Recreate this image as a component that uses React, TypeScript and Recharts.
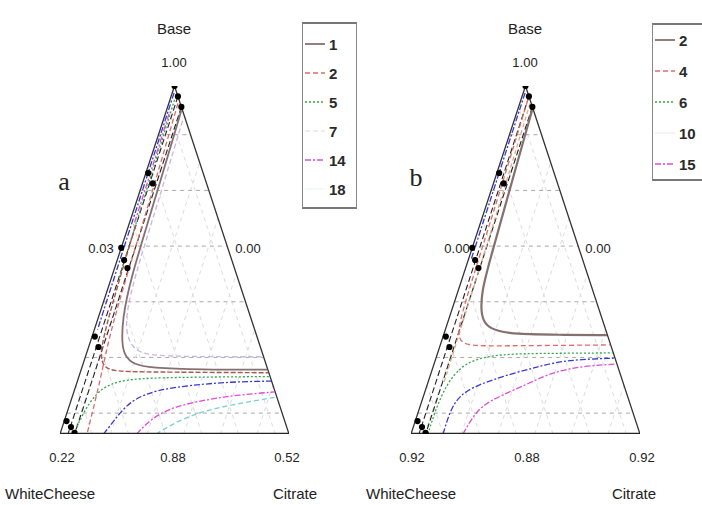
import React from "react";
import { ComposedChart, Line, Scatter, XAxis, YAxis, ZAxis } from "recharts";

// compositions are [Base, Citrate]; WhiteCheese = 1 - Base - Citrate
type Comp = [number, number];

const GRID_LEVELS = [0.06, 0.22, 0.38, 0.54, 0.7, 0.86];

const DESIGN_POINTS: Comp[] = [
  [1, 0], [0.97, 0.03], [0.94, 0.06],
  [0.75, 0.01], [0.72, 0.045],
  [0.535, 0], [0.5, 0.03], [0.477, 0.056],
  [0.28, 0.012], [0.25, 0.043],
  [0.037, 0.01], [0.02, 0.038], [0.003, 0.062],
];
const BOUND_INNER: Comp[] = [[0.97, 0.03], [0, 0.035]];
const BOUND_OUTER: Comp[] = [[0.94, 0.06], [0, 0.064]];

// panel a contours
const A_T1: Comp[] = [[0.93, 0.065], [0.67, 0.078], [0.44, 0.085], [0.33, 0.108], [0.26, 0.14], [0.225, 0.17], [0.2, 0.22], [0.19, 0.3], [0.185, 0.52], [0.185, 0.813]];
const A_T2: Comp[] = [[0.95, 0.04], [0.7, 0.055], [0.45, 0.065], [0.29, 0.073], [0.147, 0.1], [0, 0.118]];
const A_T2B: Comp[] = [[0.6, 0.03], [0.4, 0.04], [0.28, 0.05], [0.22, 0.065], [0.19, 0.1], [0.18, 0.15], [0.178, 0.3], [0.176, 0.822]];
const A_T5: Comp[] = [[0, 0.06], [0.06, 0.07], [0.12, 0.1], [0.145, 0.15], [0.158, 0.225], [0.163, 0.4], [0.165, 0.833]];
const A_T5_UP: Comp[] = [[0.96, 0.02], [0.7, 0.028], [0.45, 0.033]];
const A_T7: Comp[] = [[0.9, 0.085], [0.67, 0.095], [0.44, 0.1], [0.33, 0.12], [0.27, 0.16], [0.235, 0.22], [0.225, 0.3], [0.222, 0.5], [0.222, 0.776]];
const A_BLUE: Comp[] = [[0, 0.19], [0.02, 0.205], [0.06, 0.23], [0.1, 0.27], [0.127, 0.36], [0.14, 0.5], [0.15, 0.67], [0.152, 0.846]];
const A_BLUE_UP: Comp[] = [[0.98, 0.008], [0.7, 0.01], [0.45, 0.012], [0.3, 0.014]];
const A_T14: Comp[] = [[0, 0.335], [0.04, 0.37], [0.078, 0.45], [0.1, 0.6], [0.112, 0.72], [0.121, 0.877]];
const A_T14_UP: Comp[] = [[0.92, 0.016], [0.75, 0.02], [0.6, 0.022]];
const A_T18: Comp[] = [[0, 0.42], [0.04, 0.5], [0.07, 0.61], [0.092, 0.77], [0.106, 0.892]];

// panel b contours
const B_T2: Comp[] = [[0.94, 0.063], [0.7, 0.08], [0.5, 0.095], [0.41, 0.103], [0.34, 0.135], [0.31, 0.175], [0.296, 0.23], [0.287, 0.31], [0.285, 0.5], [0.284, 0.714]];
const B_T4: Comp[] = [[0.96, 0.03], [0.7, 0.04], [0.45, 0.045], [0.32, 0.05], [0.27, 0.07], [0.255, 0.12], [0.253, 0.2], [0.254, 0.4], [0.256, 0.742]];
const B_TAN: Comp[] = [[0.95, 0.045], [0.7, 0.055], [0.45, 0.062], [0.3, 0.066], [0.15, 0.07]];
const B_T6: Comp[] = [[0, 0.074], [0.07, 0.072], [0.147, 0.085], [0.19, 0.12], [0.213, 0.165], [0.23, 0.27], [0.232, 0.5], [0.233, 0.765]];
const B_T10: Comp[] = [[0, 0.14], [0.07, 0.137], [0.112, 0.158], [0.141, 0.218], [0.172, 0.346], [0.195, 0.466], [0.213, 0.575], [0.218, 0.78]];
const B_T10_UP: Comp[] = [[0.98, 0.008], [0.7, 0.01], [0.5, 0.012]];
const B_T15: Comp[] = [[0, 0.227], [0.046, 0.243], [0.083, 0.272], [0.109, 0.334], [0.147, 0.446], [0.178, 0.531], [0.195, 0.65], [0.201, 0.797]];

const LEGEND_A = ["1", "2", "5", "7", "14", "18"];
const LEGEND_B = ["2", "4", "6", "10", "15"];

const GRAY = "#857070";
const RED = "#e06a6a";
const BROWN = "#a85a50";
const GREEN = "#35a84c";
const LAVENDER = "#c9b4e4";
const BLUE = "#3838d6";
const MAGENTA = "#e04cd6";
const CYAN = "#78d0d0";
const TAN = "#d8ae84";

type Style = { color: string; dash?: string; width?: number };
const S_SOLID: Style = { color: GRAY, width: 1.8 };
const S_RED: Style = { color: RED, dash: "5 3" };
const S_BROWN: Style = { color: BROWN, dash: "5 2", width: 1.4 };
const S_GREEN: Style = { color: GREEN, dash: "2 2" };
const S_LAV: Style = { color: LAVENDER, dash: "5 3" };
const S_BLUE: Style = { color: BLUE, dash: "6 2 2 2" };
const S_MAG: Style = { color: MAGENTA, dash: "6 2 2 2" };
const S_CYAN: Style = { color: CYAN, dash: "5 3" };
const S_TAN: Style = { color: TAN, dash: "4 3" };

const SERIES_A: [Comp[], Style][] = [
  [A_T18, S_CYAN], [A_T14, S_MAG], [A_T14_UP, S_MAG], [A_BLUE, S_BLUE], [A_BLUE_UP, S_BLUE],
  [A_T7, S_LAV], [A_T5, S_GREEN], [A_T5_UP, S_GREEN], [A_T2, S_RED], [A_T2B, S_BROWN], [A_T1, S_SOLID],
];
const SERIES_B: [Comp[], Style][] = [
  [B_T15, S_MAG], [B_T10, S_BLUE], [B_T10_UP, S_BLUE], [B_T6, S_GREEN], [B_TAN, S_TAN],
  [B_T4, S_RED], [B_T2, { color: GRAY, width: 2.2 }],
];
const LEGEND_STYLE_A: Style[] = [S_SOLID, S_RED, S_GREEN, { color: "#ece2f4", dash: "5 3" }, S_MAG, { color: "#eef6f6" }];
const LEGEND_STYLE_B: Style[] = [S_SOLID, S_RED, S_GREEN, { color: "#eeeef8" }, S_MAG];

const toXY = ([b, c]: Comp) => ({ x: c + b / 2, y: b });

const gridLines = (lv: number): { pts: Comp[]; main: boolean }[] => [
  { pts: [[lv, 0], [lv, 1 - lv]], main: true },
  { pts: [[0, lv], [1 - lv, lv]], main: false },
  { pts: [[0, 1 - lv], [1 - lv, 0]], main: false },
];

const PLOT_TOP = 86;
const PLOT_W = 229;
const PLOT_H = 348;

function Txt({ x, y, t, size = 13, font = "'Liberation Sans', Arial, sans-serif", color = "#222" }: any) {
  return (
    <div style={{ position: "absolute", left: x, top: y, transform: "translate(-50%,-50%)", fontSize: size, fontFamily: font, color, whiteSpace: "nowrap", lineHeight: 1 }}>
      {t}
    </div>
  );
}

function Panel({ left, width, plotLeft, series }: { left: number; width: number; plotLeft: number; series: [Comp[], Style][] }) {
  const margin = { top: PLOT_TOP, bottom: 505 - PLOT_TOP - PLOT_H, left: plotLeft - left, right: left + width - plotLeft - PLOT_W };
  const grid = GRID_LEVELS.flatMap(gridLines);
  return (
    <div style={{ position: "absolute", left, top: 0 }}>
      <ComposedChart width={width} height={505} margin={margin}>
        <XAxis type="number" dataKey="x" domain={[0, 1]} hide allowDataOverflow />
        <YAxis type="number" dataKey="y" domain={[0, 1]} hide allowDataOverflow />
        <ZAxis range={[30, 30]} />
        {grid.map((g, i) => (
          <Line key={`g${i}`} data={g.pts.map(toXY)} dataKey="y" stroke={g.main ? "#a8a8a8" : "#dcdcdc"} strokeDasharray="4 4" strokeWidth={1} dot={false} activeDot={false} isAnimationActive={false} />
        ))}
        <Line data={[[0, 0], [1, 0], [0, 1]].map((p) => toXY(p as Comp))} dataKey="y" stroke="#333" strokeWidth={1.3} dot={false} isAnimationActive={false} />
        <Line data={BOUND_INNER.map(toXY)} dataKey="y" stroke="#222" strokeDasharray="6 3" strokeWidth={1.1} dot={false} isAnimationActive={false} />
        <Line data={BOUND_OUTER.map(toXY)} dataKey="y" stroke="#222" strokeDasharray="6 3" strokeWidth={1.1} dot={false} isAnimationActive={false} />
        {series.map(([pts, s], i) => (
          <Line key={`s${i}`} data={pts.map(toXY)} dataKey="y" type="basis" stroke={s.color} strokeDasharray={s.dash} strokeWidth={s.width ?? 1.3} dot={false} activeDot={false} isAnimationActive={false} />
        ))}
        <Line data={[[0, 0], [0, 1]].map((p) => toXY(p as Comp))} dataKey="y" stroke="#222" strokeWidth={2.6} dot={false} isAnimationActive={false} />
        <Scatter data={DESIGN_POINTS.map(toXY)} fill="#000" isAnimationActive={false} />
      </ComposedChart>
    </div>
  );
}

function LegendBox({ x, y, w, h, labels, styles, rowTop, rowGap }: any) {
  return (
    <div style={{ position: "absolute", left: x, top: y, width: w, height: h, borderTop: "2px solid #777", borderBottom: "2px solid #777", borderLeft: "1px solid #888", borderRight: "1px solid #888", boxSizing: "border-box" }}>
      {labels.map((l: string, i: number) => {
        const s: Style = styles[i];
        return (
          <div key={l} style={{ position: "absolute", left: 2, top: rowTop + i * rowGap - 9, height: 18, display: "flex", alignItems: "center" }}>
            <svg width={20} height={6} style={{ marginRight: 4 }}>
              <line x1={0} y1={3} x2={20} y2={3} stroke={s.color} strokeWidth={s.width ?? 1.4} strokeDasharray={s.dash} />
            </svg>
            <span style={{ fontFamily: "'Liberation Sans Narrow', 'Liberation Sans', Arial, sans-serif", fontSize: 15, fontWeight: "bold", color: "#2a2a2a" }}>{l}</span>
          </div>
        );
      })}
    </div>
  );
}

export default function App() {
  const serif = "'Liberation Serif', 'DejaVu Serif', serif";
  return (
    <div style={{ position: "absolute", left: 0, top: 0, width: 702, height: 505, overflow: "hidden", background: "#fff" }}>
      <Panel left={0} width={360} plotLeft={60} series={SERIES_A} />
      <Panel left={360} width={342} plotLeft={411} series={SERIES_B} />

      <Txt x={174} y={28} t="Base" size={15} />
      <Txt x={174} y={62} t="1.00" />
      <Txt x={64} y={182} t="a" size={26} font={serif} />
      <Txt x={101} y={248} t="0.03" />
      <Txt x={248} y={248} t="0.00" />
      <Txt x={62} y={457} t="0.22" />
      <Txt x={173} y={457} t="0.88" />
      <Txt x={287} y={457} t="0.52" />
      <Txt x={50} y={493} t="WhiteCheese" size={15} />
      <Txt x={295} y={493} t="Citrate" size={15} />

      <Txt x={525} y={28} t="Base" size={15} />
      <Txt x={525} y={62} t="1.00" />
      <Txt x={416} y={178} t="b" size={26} font={serif} />
      <Txt x={457} y={248} t="0.00" />
      <Txt x={598} y={248} t="0.00" />
      <Txt x={412} y={457} t="0.92" />
      <Txt x={527} y={457} t="0.88" />
      <Txt x={642} y={457} t="0.92" />
      <Txt x={411} y={493} t="WhiteCheese" size={15} />
      <Txt x={634} y={493} t="Citrate" size={15} />

      <LegendBox x={302} y={22} w={55} h={187} labels={LEGEND_A} styles={LEGEND_STYLE_A} rowTop={20} rowGap={29} />
      <LegendBox x={652} y={23} w={60} h={158} labels={LEGEND_B} styles={LEGEND_STYLE_B} rowTop={15} rowGap={31} />
    </div>
  );
}
